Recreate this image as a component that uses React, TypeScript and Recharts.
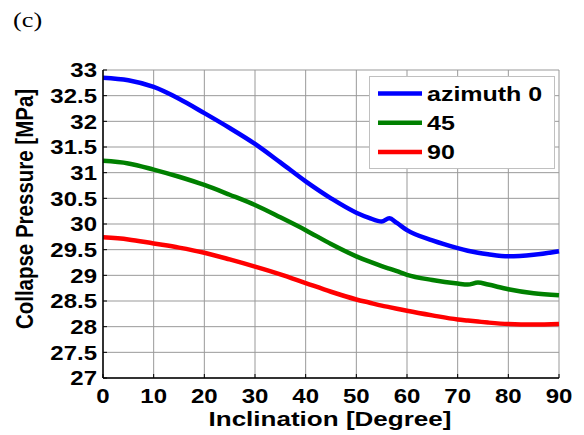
import React from 'react';
import { LineChart, Line, XAxis, YAxis, CartesianGrid, Legend } from 'recharts';

const inclination = [0, 5, 10, 15, 20, 25, 30, 35, 40, 45, 50, 52.5, 55, 56.5, 58, 60, 65, 70, 72, 74, 76, 80, 85, 90];
const azimuth0 = [32.85, 32.8, 32.67, 32.44, 32.16, 31.87, 31.56, 31.2, 30.83, 30.5, 30.22, 30.12, 30.05, 30.11, 30.02, 29.88, 29.68, 29.53, 29.48, 29.44, 29.41, 29.37, 29.4, 29.47];
const azimuth45 = [31.23, 31.18, 31.06, 30.92, 30.76, 30.57, 30.37, 30.13, 29.88, 29.61, 29.37, 29.27, 29.18, 29.13, 29.08, 29.01, 28.91, 28.84, 28.82, 28.86, 28.82, 28.73, 28.65, 28.61];
const azimuth90 = [29.74, 29.7, 29.62, 29.54, 29.44, 29.31, 29.17, 29.02, 28.85, 28.68, 28.53, 28.47, 28.41, 28.38, 28.35, 28.31, 28.22, 28.14, 28.12, 28.1, 28.08, 28.05, 28.04, 28.05];
const seriesNames = ['azimuth 0', '45', '90'];
const seriesColors = ['#0000ff', '#008000', '#ff0000'];
const xTicks = [0, 10, 20, 30, 40, 50, 60, 70, 80, 90];
const yTicks = [27, 27.5, 28, 28.5, 29, 29.5, 30, 30.5, 31, 31.5, 32, 32.5, 33];

const data = inclination.map((x, i) => ({
  x,
  a0: azimuth0[i],
  a45: azimuth45[i],
  a90: azimuth90[i],
}));

const FONT = '"Liberation Sans", Arial, sans-serif';
const SX = 1.2;

const XTick = (props: any) => {
  const { x, payload } = props;
  return (
    <text x={x / SX} y={403} transform={`scale(${SX},1)`} textAnchor="middle" fontFamily={FONT} fontWeight="bold" fontSize={20} fill="#000">
      {payload.value}
    </text>
  );
};

const YTick = (props: any) => {
  const { y, payload } = props;
  return (
    <text x={97 / SX} y={y + 7.5} transform={`scale(${SX},1)`} textAnchor="end" fontFamily={FONT} fontWeight="bold" fontSize={20} fill="#000">
      {payload.value}
    </text>
  );
};

const Empty = () => <g />;

const LegendBox = (props: any) => {
  const payload = [...(props.payload || [])].sort(
    (a: any, b: any) => seriesNames.indexOf(a.value) - seriesNames.indexOf(b.value)
  );
  return (
    <svg width={186} height={93} style={{ display: 'block' }}>
      <rect x={0.5} y={0.5} width={185} height={92} fill="#fff" stroke="#c0c0c0" strokeWidth={1} />
      {payload.map((p: any, i: number) => {
        const cy = 17.5 + i * 29.2;
        return (
          <g key={i}>
            <line x1={9} x2={53} y1={cy} y2={cy} stroke={p.color} strokeWidth={4.5} />
            <text x={58 / 1.25} y={cy + 7.5} transform="scale(1.25,1)" fontFamily={FONT} fontWeight="bold" fontSize={20} fill="#000">
              {p.value}
            </text>
          </g>
        );
      })}
    </svg>
  );
};

export default function App() {
  return (
    <div style={{ position: 'absolute', left: 0, top: 0, width: 584, height: 435, background: '#fff' }}>
      <svg width={80} height={40} style={{ position: 'absolute', left: 0, top: 0 }}>
        <text x={13 / 1.25} y={27} transform="scale(1.25,1)" fontFamily='"Liberation Serif", "Times New Roman", serif' fontSize={21} fill="#000">
          (c)
        </text>
      </svg>
      <div style={{ position: 'absolute', left: 0, top: 0 }}>
        <LineChart width={584} height={435} data={data} margin={{ top: 70, right: 25, left: 0, bottom: 0 }}>
          <CartesianGrid stroke="#999" strokeWidth={1} />
          <XAxis
            dataKey="x"
            type="number"
            domain={[0, 90]}
            ticks={xTicks}
            height={57}
            axisLine={{ stroke: '#000', strokeWidth: 1.5 }}
            tickLine={{ stroke: '#000' }}
            tickSize={-4}
            tick={<XTick />}
            interval={0}
            label={{
              content: () => (
                <text x={330 / 1.24} y={426} transform="scale(1.24,1)" textAnchor="middle" fontFamily={FONT} fontWeight="bold" fontSize={21} fill="#000">
                  Inclination [Degree]
                </text>
              ),
            }}
          />
          <XAxis
            xAxisId="top"
            orientation="top"
            dataKey="x"
            type="number"
            domain={[0, 90]}
            ticks={xTicks}
            height={0}
            axisLine={{ stroke: '#000', strokeWidth: 1.5 }}
            tickLine={{ stroke: '#000' }}
            tickSize={-4}
            tick={<Empty />}
            interval={0}
          />
          <YAxis
            type="number"
            domain={[27, 33]}
            ticks={yTicks}
            width={103}
            axisLine={{ stroke: '#000', strokeWidth: 1.5 }}
            tickLine={{ stroke: '#000' }}
            tickSize={-4}
            tick={<YTick />}
            interval={0}
            allowDataOverflow
            label={{
              content: () => (
                <text transform="translate(33,209) scale(1.18,1) rotate(-90)" x={0} y={0} textAnchor="middle" fontFamily={FONT} fontWeight="bold" fontSize={20.5} fill="#000">
                  Collapse Pressure [MPa]
                </text>
              ),
            }}
          />
          <YAxis
            yAxisId="right"
            orientation="right"
            type="number"
            domain={[27, 33]}
            ticks={yTicks}
            width={0}
            axisLine={{ stroke: '#000', strokeWidth: 1.5 }}
            tickLine={{ stroke: '#000' }}
            tickSize={-4}
            tick={<Empty />}
            interval={0}
            allowDataOverflow
          />
          <Legend
            layout="vertical"
            align="center"
            verticalAlign="middle"
            content={<LegendBox />}
            wrapperStyle={{ position: 'absolute', left: 369, top: 76, width: 186, height: 93 }}
          />
          <Line type="monotone" dataKey="a0" name={seriesNames[0]} stroke={seriesColors[0]} strokeWidth={4.5} dot={false} isAnimationActive={false} />
          <Line type="monotone" dataKey="a45" name={seriesNames[1]} stroke={seriesColors[1]} strokeWidth={4.5} dot={false} isAnimationActive={false} />
          <Line type="monotone" dataKey="a90" name={seriesNames[2]} stroke={seriesColors[2]} strokeWidth={4.5} dot={false} isAnimationActive={false} />
        </LineChart>
      </div>
    </div>
  );
}
